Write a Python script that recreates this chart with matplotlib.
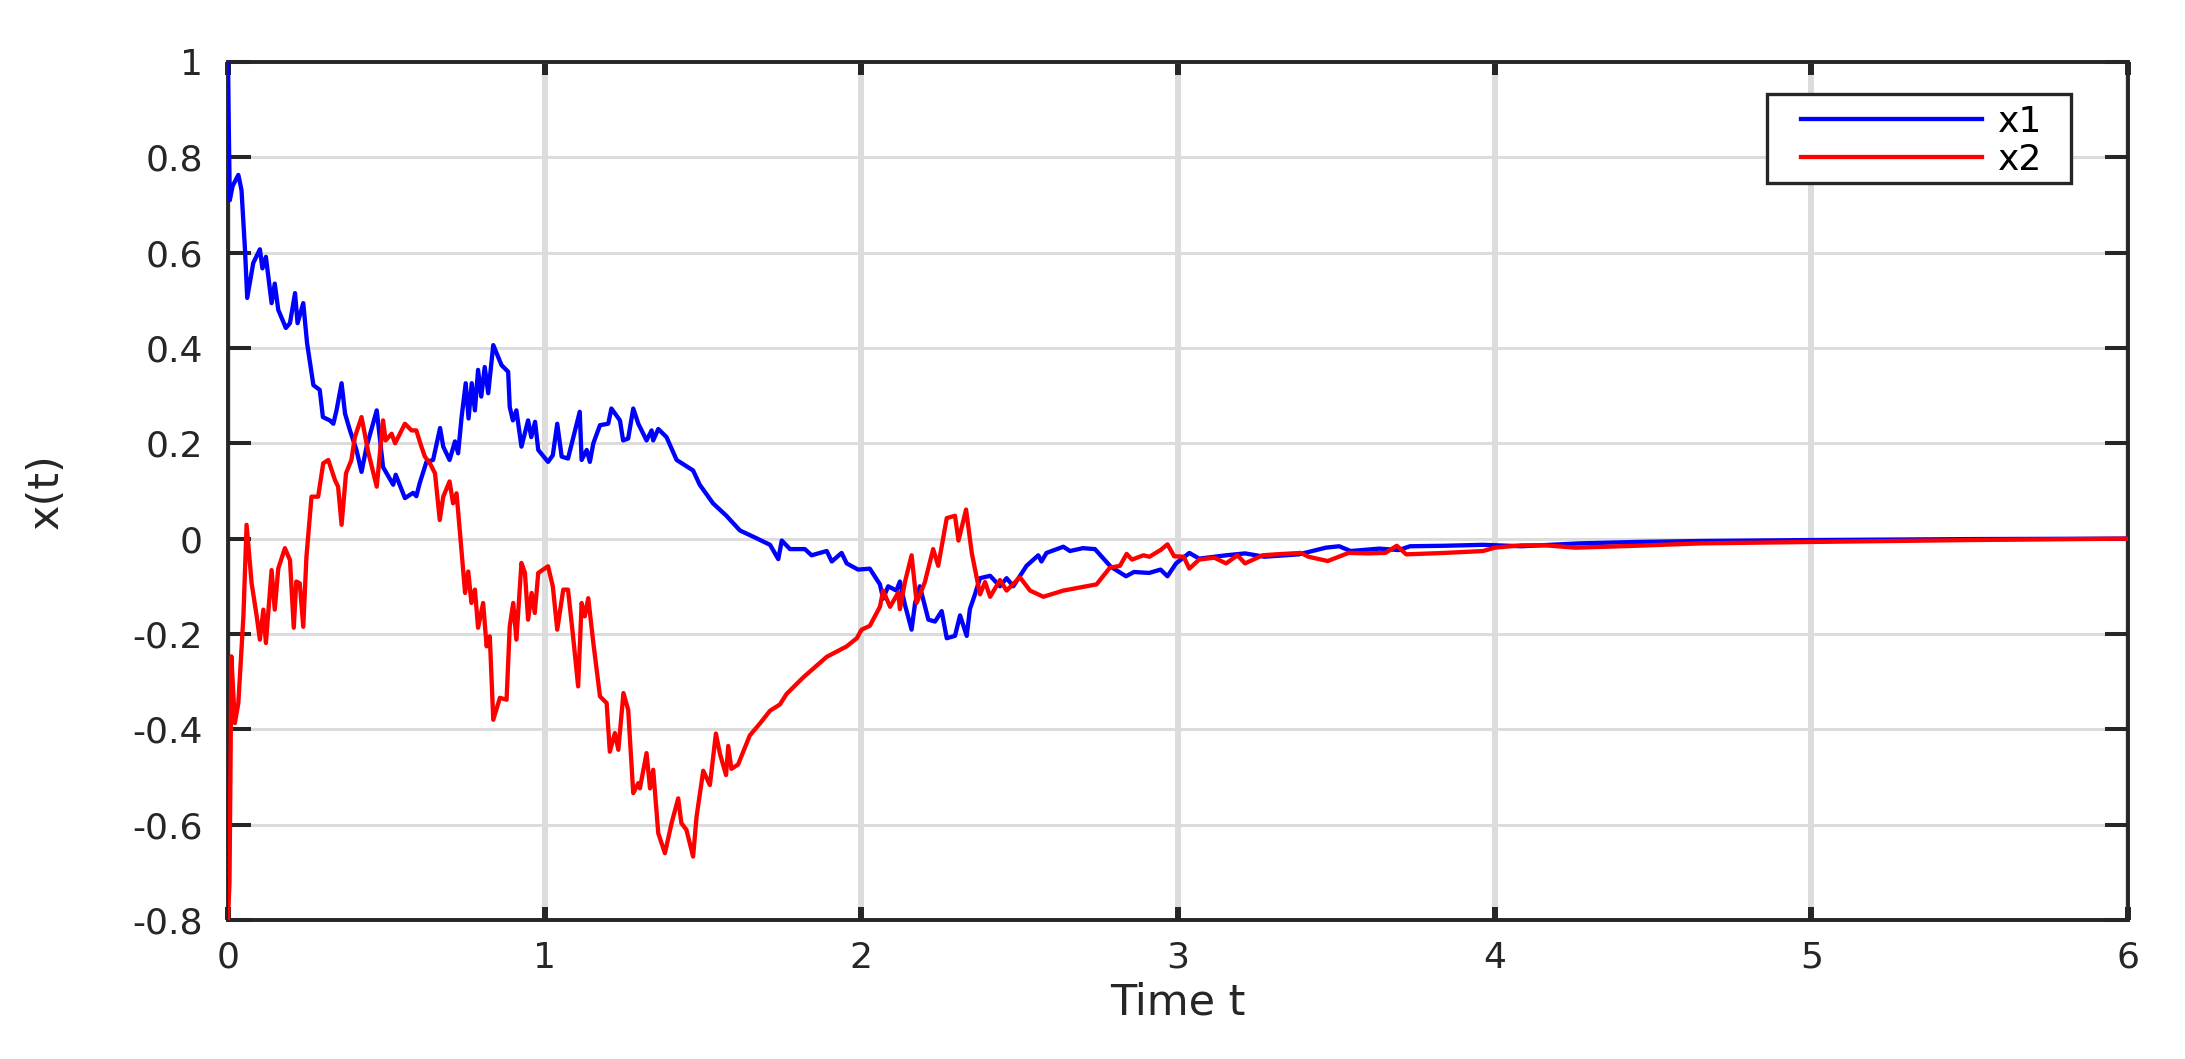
import matplotlib
matplotlib.use("Agg")
from matplotlib import pyplot as plt
from matplotlib.patches import Rectangle

# --- data ---
t_x1 = [0.000, 0.004, 0.006, 0.015, 0.033, 0.043, 0.054, 0.061, 0.080, 0.101, 0.109, 0.120,
        0.138, 0.148, 0.159, 0.183, 0.196, 0.212, 0.220, 0.238, 0.250, 0.270, 0.290, 0.300,
        0.322, 0.333, 0.343, 0.359, 0.370, 0.385, 0.406, 0.422, 0.438, 0.470, 0.490, 0.522,
        0.530, 0.559, 0.585, 0.595, 0.606, 0.627, 0.648, 0.670, 0.680, 0.700, 0.717, 0.727,
        0.738, 0.751, 0.760, 0.770, 0.780, 0.790, 0.800, 0.811, 0.822, 0.838, 0.864, 0.885,
        0.890, 0.900, 0.911, 0.927, 0.948, 0.958, 0.970, 0.980, 1.011, 1.026, 1.040, 1.054,
        1.074, 1.111, 1.117, 1.133, 1.143, 1.154, 1.175, 1.201, 1.211, 1.238, 1.248, 1.264,
        1.280, 1.296, 1.322, 1.338, 1.343, 1.359, 1.385, 1.417, 1.469, 1.490, 1.532, 1.574,
        1.617, 1.659, 1.712, 1.738, 1.749, 1.775, 1.822, 1.843, 1.891, 1.907, 1.938, 1.954,
        1.990, 2.027, 2.059, 2.069, 2.085, 2.111, 2.122, 2.138, 2.159, 2.170, 2.185, 2.212,
        2.233, 2.254, 2.270, 2.296, 2.312, 2.333, 2.343, 2.359, 2.375, 2.407, 2.438, 2.459,
        2.480, 2.522, 2.559, 2.569, 2.585, 2.638, 2.659, 2.700, 2.738, 2.788, 2.836, 2.861,
        2.909, 2.945, 2.967, 2.994, 3.036, 3.067, 3.152, 3.212, 3.273, 3.382, 3.467, 3.509,
        3.545, 3.636, 3.697, 3.733, 3.842, 3.964, 4.085, 4.267, 4.448, 4.652, 5.0, 5.5, 6.0]
x1 = [1.000, 0.800, 0.710, 0.740, 0.763, 0.731, 0.606, 0.505, 0.578, 0.607, 0.567, 0.591,
      0.494, 0.535, 0.480, 0.442, 0.452, 0.515, 0.452, 0.494, 0.410, 0.322, 0.312, 0.255,
      0.248, 0.241, 0.269, 0.326, 0.262, 0.228, 0.186, 0.140, 0.193, 0.269, 0.150, 0.113,
      0.134, 0.085, 0.096, 0.089, 0.117, 0.161, 0.165, 0.232, 0.193, 0.165, 0.204, 0.179,
      0.255, 0.326, 0.252, 0.326, 0.269, 0.354, 0.298, 0.360, 0.305, 0.406, 0.364, 0.350,
      0.276, 0.248, 0.269, 0.193, 0.248, 0.213, 0.245, 0.186, 0.161, 0.175, 0.241, 0.172,
      0.168, 0.266, 0.165, 0.186, 0.161, 0.200, 0.238, 0.241, 0.273, 0.248, 0.206, 0.210,
      0.273, 0.241, 0.206, 0.227, 0.206, 0.230, 0.213, 0.165, 0.143, 0.113, 0.074, 0.048,
      0.017, 0.004, -0.013, -0.043, -0.004, -0.022, -0.022, -0.035, -0.026, -0.048, -0.030, -0.052,
      -0.065, -0.063, -0.096, -0.126, -0.100, -0.109, -0.090, -0.139, -0.191, -0.135, -0.100, -0.170,
      -0.174, -0.152, -0.209, -0.204, -0.161, -0.204, -0.148, -0.117, -0.083, -0.078, -0.100, -0.083,
      -0.100, -0.057, -0.035, -0.048, -0.030, -0.017, -0.026, -0.020, -0.022, -0.059, -0.079, -0.070,
      -0.072, -0.065, -0.079, -0.052, -0.030, -0.042, -0.035, -0.031, -0.038, -0.033, -0.019, -0.016,
      -0.026, -0.021, -0.024, -0.016, -0.015, -0.013, -0.016, -0.010, -0.007, -0.005, -0.003, -0.001, 0.0]

t_x2 = [0.000, 0.005, 0.008, 0.011, 0.022, 0.033, 0.049, 0.059, 0.075, 0.091, 0.101, 0.112,
        0.120, 0.138, 0.148, 0.159, 0.180, 0.196, 0.208, 0.216, 0.227, 0.238, 0.248, 0.264,
        0.285, 0.301, 0.317, 0.338, 0.348, 0.359, 0.373, 0.390, 0.401, 0.422, 0.443, 0.470,
        0.490, 0.498, 0.517, 0.528, 0.559, 0.580, 0.595, 0.611, 0.622, 0.638, 0.654, 0.669,
        0.680, 0.700, 0.711, 0.722, 0.733, 0.749, 0.759, 0.769, 0.780, 0.790, 0.806, 0.817,
        0.827, 0.838, 0.859, 0.880, 0.890, 0.901, 0.911, 0.927, 0.938, 0.948, 0.959, 0.969,
        0.980, 1.011, 1.026, 1.040, 1.059, 1.074, 1.090, 1.106, 1.117, 1.127, 1.138, 1.154,
        1.175, 1.196, 1.206, 1.222, 1.233, 1.249, 1.264, 1.280, 1.296, 1.301, 1.322, 1.333,
        1.343, 1.359, 1.380, 1.401, 1.422, 1.432, 1.448, 1.469, 1.480, 1.501, 1.522, 1.541,
        1.554, 1.573, 1.580, 1.590, 1.611, 1.648, 1.681, 1.712, 1.743, 1.764, 1.817, 1.891,
        1.954, 1.986, 2.001, 2.027, 2.059, 2.069, 2.091, 2.117, 2.122, 2.138, 2.159, 2.175,
        2.201, 2.227, 2.243, 2.270, 2.296, 2.307, 2.331, 2.349, 2.375, 2.391, 2.407, 2.438,
        2.459, 2.501, 2.533, 2.575, 2.638, 2.743, 2.785, 2.817, 2.838, 2.855, 2.891, 2.910,
        2.945, 2.967, 2.988, 3.018, 3.036, 3.067, 3.115, 3.152, 3.188, 3.212, 3.267, 3.309,
        3.388, 3.412, 3.473, 3.539, 3.600, 3.655, 3.691, 3.721, 3.842, 3.964, 4.000, 4.085,
        4.158, 4.255, 4.448, 4.652, 5.0, 5.5, 6.0]
x2 = [-0.800, -0.722, -0.500, -0.247, -0.387, -0.345, -0.163, 0.029, -0.094, -0.163, -0.212, -0.149,
      -0.219, -0.066, -0.149, -0.063, -0.020, -0.045, -0.187, -0.090, -0.094, -0.185, -0.038, 0.088,
      0.088, 0.158, 0.165, 0.123, 0.109, 0.029, 0.137, 0.165, 0.213, 0.255, 0.182, 0.109,
      0.248, 0.206, 0.220, 0.200, 0.241, 0.227, 0.227, 0.193, 0.172, 0.158, 0.137, 0.039,
      0.088, 0.120, 0.074, 0.095, 0.011, -0.114, -0.069, -0.135, -0.107, -0.187, -0.135, -0.226,
      -0.205, -0.380, -0.334, -0.338, -0.184, -0.135, -0.212, -0.051, -0.072, -0.170, -0.114, -0.156,
      -0.072, -0.058, -0.100, -0.191, -0.107, -0.107, -0.205, -0.310, -0.135, -0.163, -0.125, -0.219,
      -0.331, -0.345, -0.447, -0.408, -0.443, -0.324, -0.359, -0.534, -0.513, -0.524, -0.450, -0.524,
      -0.485, -0.618, -0.660, -0.597, -0.545, -0.597, -0.611, -0.667, -0.583, -0.487, -0.517, -0.409,
      -0.452, -0.496, -0.435, -0.483, -0.474, -0.413, -0.387, -0.361, -0.348, -0.326, -0.291, -0.248,
      -0.226, -0.209, -0.191, -0.183, -0.143, -0.109, -0.143, -0.113, -0.148, -0.091, -0.035, -0.135,
      -0.091, -0.022, -0.057, 0.043, 0.048, -0.004, 0.061, -0.030, -0.117, -0.091, -0.122, -0.087,
      -0.109, -0.081, -0.109, -0.122, -0.109, -0.096, -0.061, -0.057, -0.032, -0.044, -0.035, -0.038,
      -0.024, -0.012, -0.037, -0.038, -0.063, -0.044, -0.040, -0.052, -0.035, -0.052, -0.035, -0.033,
      -0.030, -0.038, -0.047, -0.030, -0.031, -0.030, -0.015, -0.033, -0.030, -0.026, -0.019, -0.014,
      -0.014, -0.019, -0.015, -0.010, -0.007, -0.003, 0.0]

x_ticks = [0, 1, 2, 3, 4, 5, 6]
y_ticks = [-0.8, -0.6, -0.4, -0.2, 0, 0.2, 0.4, 0.6, 0.8, 1]
y_ticklabels = ["-0.8", "-0.6", "-0.4", "-0.2", "0", "0.2", "0.4", "0.6", "0.8", "1"]

plt.rcParams['font.family'] = ['DejaVu Sans']
ink = '#262626'

fig = plt.figure(figsize=(21.85, 10.59), dpi=100)
ax = fig.add_axes([0.1043, 0.1313, 0.8696, 0.8102])

ax.plot(t_x1, x1, color=(0, 0, 1), lw=3.1, label='x1', zorder=3)
ax.plot(t_x2, x2, color=(1, 0, 0), lw=3.1, label='x2', zorder=3)

ax.set_xlim(0, 6)
ax.set_ylim(-0.8, 1)
ax.set_xticks(x_ticks)
ax.set_yticks(y_ticks)
ax.set_yticklabels(y_ticklabels)

# grid (vertical lines look wider in the reference)
ax.grid(axis='x', color='#dcdcdc', lw=4.3, zorder=0)
ax.grid(axis='y', color='#dcdcdc', lw=2.2, zorder=0)
ax.set_axisbelow(True)

for s in ax.spines.values():
    s.set_color(ink)
    s.set_linewidth(2.8)

ax.tick_params(axis='x', direction='in', top=True, length=9.4, width=4.3,
               color=ink, labelcolor=ink, labelsize=26, pad=15)
ax.tick_params(axis='y', direction='in', right=True, length=16.5, width=2.9,
               color=ink, labelcolor=ink, labelsize=26, pad=18)

ax.set_xlabel('Time t', fontsize=31, color=ink)
ax.xaxis.set_label_coords(0.5, -0.072)
ax.set_ylabel('x(t)', fontsize=31, color=ink)
ax.yaxis.set_label_coords(-0.085, 0.5)

# legend box drawn separately so the padding can match the reference
ax.add_patch(Rectangle((0.81, 0.859), 0.16, 0.104, transform=ax.transAxes,
                       facecolor='white', edgecolor=ink, lw=2.4, zorder=4.5, clip_on=False))
leg = ax.legend(loc='upper left', bbox_to_anchor=(0.8279, 0.950), fontsize=26,
                handlelength=5.0, handletextpad=0.45, labelspacing=0.11,
                borderpad=0, borderaxespad=0, frameon=False)
leg.set_zorder(5)

fig.savefig('out.png', dpi=100, facecolor='white')
